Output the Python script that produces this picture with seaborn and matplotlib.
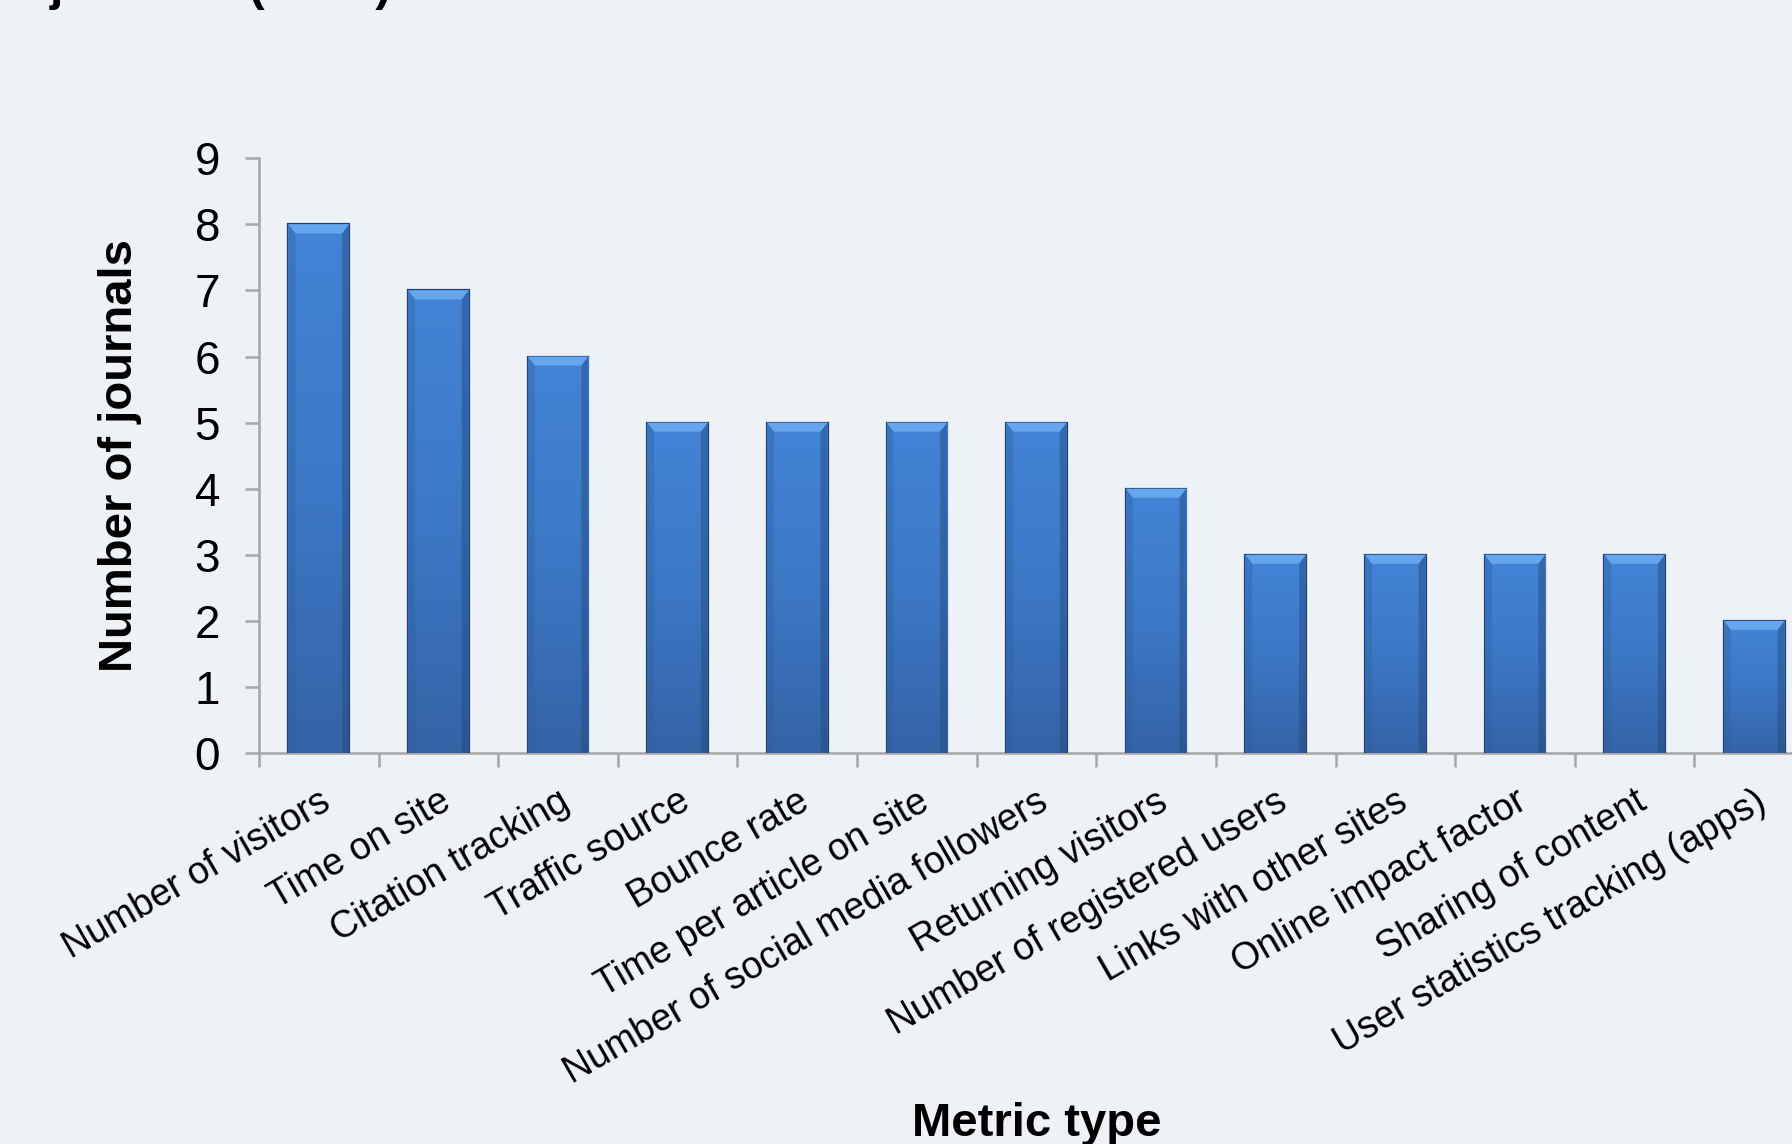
import numpy as np
import pandas as pd
import matplotlib
matplotlib.use("Agg")
import matplotlib.pyplot as plt
from matplotlib.patches import Polygon
from matplotlib.colors import LinearSegmentedColormap
import seaborn as sns

# Metrics tracked by journals
metrics = [
    "Number of visitors", "Time on site", "Citation tracking", "Traffic source",
    "Bounce rate", "Time per article on site", "Number of social media followers",
    "Returning visitors", "Number of registered users", "Links with other sites",
    "Online impact factor", "Sharing of content", "User statistics tracking (apps)",
]
journals = [8, 7, 6, 5, 5, 5, 5, 4, 3, 3, 3, 3, 2]
y_ticks = list(range(0, 10))

BG = "#EEF2F7"
AXIS_GREY = "#A6A6A6"

sns.set_theme(style="white")
plt.rcParams["font.family"] = ["Liberation Sans", "DejaVu Sans"]
plt.rcParams["text.color"] = "black"
plt.rcParams["axes.labelcolor"] = "black"

df = pd.DataFrame({"metric": metrics, "journals": journals})

fig = plt.figure(figsize=(17.92, 11.44), dpi=100, facecolor=BG)
ax = fig.add_axes([0.1445, 0.3418, 0.8678, 0.5198])
ax.set_facecolor(BG)

sns.barplot(data=df, x="metric", y="journals", color="#3F7FCF", width=0.507,
            saturation=1, ax=ax, zorder=3)

# Glossy gradient fill with a bevelled top for each bar
grad = LinearSegmentedColormap.from_list("bar", ["#3463A6", "#3C78C6", "#4384D6"])
gradient = np.linspace(0, 1, 256).reshape(-1, 1)
px_x = 1 / 119.6  # data units per pixel horizontally
px_y = 1 / 66.1   # data units per pixel vertically
for patch in ax.patches:
    x0, y0 = patch.get_x(), patch.get_y()
    w, h = patch.get_width(), patch.get_height()
    patch.set_edgecolor("#1F416F")
    patch.set_linewidth(1.6)
    im = ax.imshow(gradient, cmap=grad, aspect="auto", origin="lower",
                   extent=[x0, x0 + w, y0, y0 + h], zorder=3.5)
    im.set_clip_path(patch)
    dx, dy = 7 * px_x, 9 * px_y
    top = Polygon([[x0, y0 + h], [x0 + w, y0 + h], [x0 + w - dx, y0 + h - dy],
                   [x0 + dx, y0 + h - dy]], closed=True, facecolor="#66A6EE",
                  edgecolor="none", zorder=3.6)
    ax.add_patch(top)
    left = Polygon([[x0, y0 + h], [x0 + dx, y0 + h - dy], [x0 + dx, y0],
                    [x0, y0]], closed=True, facecolor="#2F5E9E", alpha=0.35,
                   edgecolor="none", zorder=3.6)
    right = Polygon([[x0 + w, y0 + h], [x0 + w - dx, y0 + h - dy], [x0 + w - dx, y0],
                     [x0 + w, y0]], closed=True, facecolor="#24487A", alpha=0.45,
                    edgecolor="none", zorder=3.6)
    ax.add_patch(left)
    ax.add_patch(right)
    outline = Polygon(patch.get_verts(), closed=True, facecolor="none",
                      edgecolor="#1F416F", linewidth=1.6, zorder=3.7)
    ax.add_patch(outline)

ax.set_xlim(-0.5, len(metrics) - 0.5)
ax.set_ylim(0, 9)
ax.set_yticks(y_ticks)
ax.set_yticklabels([str(v) for v in y_ticks], fontsize=33, color="black")
ax.tick_params(axis="y", which="major", direction="out", length=10, width=1.8,
               color=AXIS_GREY, pad=18, left=True)

# category labels at centres, tick marks at category boundaries
ax.set_xticks(range(len(metrics)))
ax.set_xticklabels(metrics, rotation=30, ha="right", rotation_mode="anchor",
                   fontsize=27, color="black")
ax.tick_params(axis="x", which="major", length=0, pad=22)
ax.set_xticks(np.arange(-0.5, len(metrics), 1), minor=True)
ax.tick_params(axis="x", which="minor", direction="out", length=10, width=1.8,
               color=AXIS_GREY, bottom=True)

for side in ["top", "right"]:
    ax.spines[side].set_visible(False)
for side in ["left", "bottom"]:
    ax.spines[side].set_color(AXIS_GREY)
    ax.spines[side].set_linewidth(1.8)

ax.set_xlabel("")
ax.set_ylabel("Number of journals", fontsize=34, fontweight="bold", color="black")
ax.yaxis.set_label_coords(-0.075, 0.5)

fig.text(0.5784, 0.007, "Metric type", fontsize=34, fontweight="bold",
         ha="center", va="baseline", color="black")
fig.text(0.028, 1.0, "journals (n=15)", fontsize=34.5, fontweight="bold",
         ha="left", va="baseline", color="black")

fig.savefig("out.png", dpi=100, facecolor=BG)
